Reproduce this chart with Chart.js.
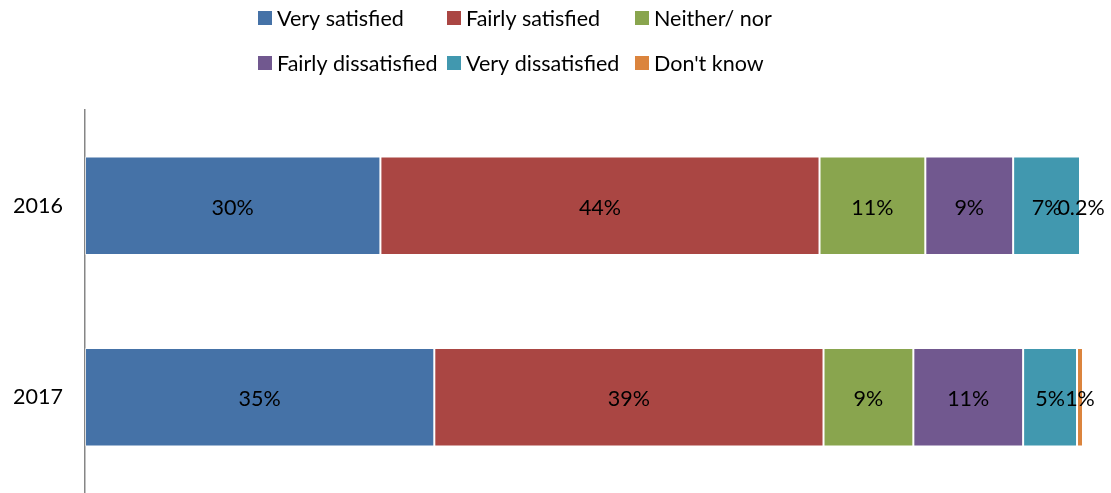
<!DOCTYPE html>
<html>
<head>
<meta charset="utf-8">
<script src="https://cdn.jsdelivr.net/npm/chart.js@4/dist/chart.umd.min.js"></script>
<style>
  html, body { margin: 0; padding: 0; background: #fff; overflow: hidden; }
  #wrap { position: relative; width: 1111px; height: 493px; }
</style>
</head>
<body>
<div id="wrap"><canvas id="satChart"></canvas></div>
<script>
// categories and series
const years = ['2016', '2017'];
const seriesNames = ['Very satisfied', 'Fairly satisfied', 'Neither/ nor',
  'Fairly dissatisfied', 'Very dissatisfied', "Don't know"];
const verySatisfied = [29.6, 35.0];
const fairlySatisfied = [44.0, 39.0];
const neitherNor = [10.6, 9.0];
const fairlyDissatisfied = [8.8, 11.0];
const veryDissatisfied = [6.7, 5.4];
const dontKnow = [0.2, 0.6];
const colors = ['#4572A7', '#AA4643', '#89A54E', '#71588F', '#4198AF', '#DB843D'];

const FONT = 'Lato, "Open Sans", sans-serif';
const FONT_SIZE = 21.5;
const allSeries = [verySatisfied, fairlySatisfied, neitherNor, fairlyDissatisfied, veryDissatisfied, dontKnow];

function pctLabel(v) {
  return (v < 0.5 ? v.toFixed(1) : Math.round(v)) + '%';
}

// value labels centred in each segment
const segmentLabels = {
  id: 'segmentLabels',
  afterDatasetsDraw(chart) {
    const ctx = chart.ctx;
    ctx.save();
    ctx.font = FONT_SIZE + 'px ' + FONT;
    ctx.fillStyle = '#000';
    ctx.textAlign = 'center';
    ctx.textBaseline = 'middle';
    chart.data.datasets.forEach((ds, i) => {
      chart.getDatasetMeta(i).data.forEach((bar, j) => {
        ctx.fillText(pctLabel(ds.data[j]), (bar.x + bar.base) / 2, bar.y + 2);
      });
    });
    ctx.restore();
  }
};

// two-row legend like the original
const gridLegend = {
  id: 'gridLegend',
  afterDraw(chart) {
    const ctx = chart.ctx;
    ctx.save();
    ctx.font = FONT_SIZE + 'px ' + FONT;
    ctx.textBaseline = 'middle';
    const cols = [258, 447, 635];
    const rows = [18, 63];
    chart.data.datasets.forEach((ds, i) => {
      const x = cols[i % 3];
      const y = rows[Math.floor(i / 3)];
      ctx.fillStyle = ds.backgroundColor;
      ctx.fillRect(x, y - 7, 14, 14);
      ctx.fillStyle = '#000';
      ctx.fillText(ds.label, x + 19, y + 1);
    });
    ctx.restore();
  }
};

new Chart(document.getElementById('satChart').getContext('2d'), {
  type: 'bar',
  data: {
    labels: years,
    datasets: seriesNames.map((name, i) => ({
      label: name,
      data: allSeries[i],
      backgroundColor: colors[i],
      borderColor: 'rgba(255,255,255,0.45)',
      borderWidth: 1,
      borderSkipped: false,
      barPercentage: 0.515,
      categoryPercentage: 1
    }))
  },
  options: {
    indexAxis: 'y',
    responsive: true,
    maintainAspectRatio: false,
    animation: false,
    devicePixelRatio: 1,
    layout: { padding: { top: 110, left: 10, right: 28, bottom: 0 } },
    plugins: {
      legend: { display: false },
      tooltip: { enabled: false }
    },
    scales: {
      x: {
        stacked: true,
        display: false,
        min: 0,
        max: 100
      },
      y: {
        stacked: true,
        grid: { display: false, drawTicks: false },
        border: { display: true, color: '#868686', width: 1.5 },
        ticks: { color: '#000', padding: 22, font: { size: FONT_SIZE, family: FONT } },
        afterFit(scale) {
          scale.width = 75;
          scale.paddingTop = 0;
          scale.paddingBottom = 0;
        }
      }
    }
  },
  plugins: [segmentLabels, gridLegend]
});
</script>
</body>
</html>
